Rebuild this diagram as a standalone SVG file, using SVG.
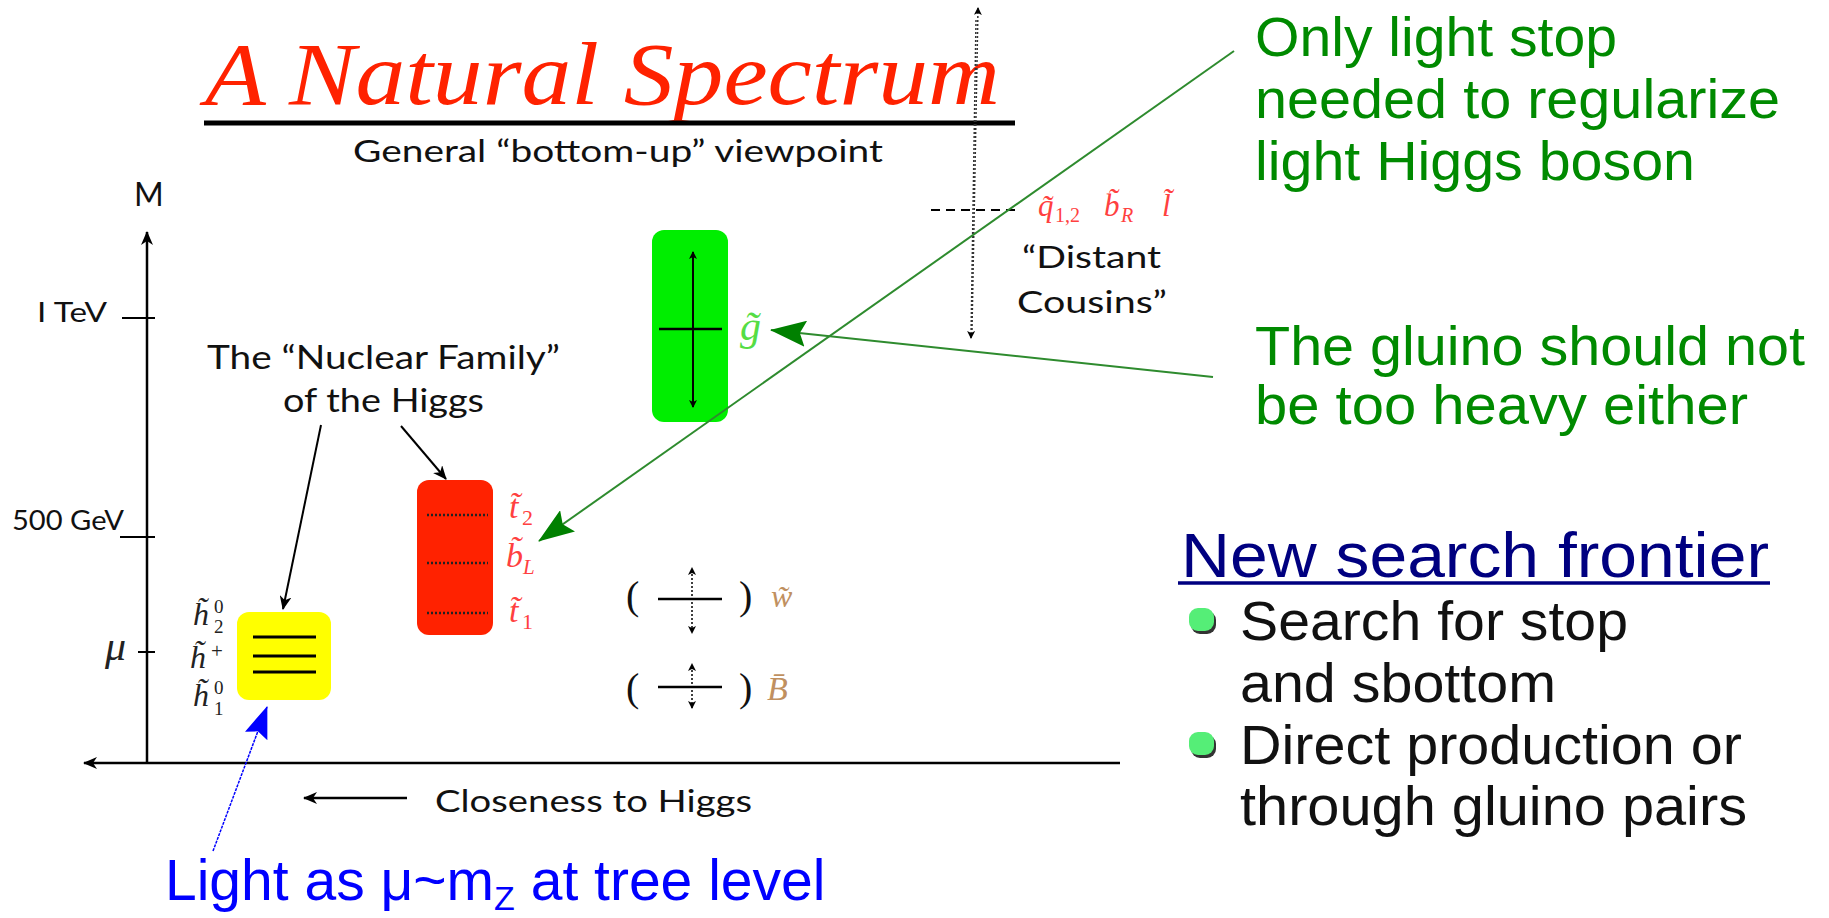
<svg xmlns="http://www.w3.org/2000/svg" width="1829" height="918" viewBox="0 0 1829 918">
<style>
.gill{font-family:Lato,"Open Sans","Liberation Sans",sans-serif;fill:#111}
.arial{font-family:"Liberation Sans",Arial,sans-serif}
.math{font-family:"Liberation Serif","DejaVu Serif",serif;font-style:italic}
.up{font-style:normal}
.grn{fill:#008a00}
.red{fill:#ff4040}
.tan{fill:#c09060}
.ln{stroke:#000;fill:none}
</style>
<defs>
<marker id="ak" markerWidth="14" markerHeight="12" refX="13" refY="6" orient="auto" markerUnits="userSpaceOnUse"><path d="M0,0 L14,6 L0,12 L4,6 Z" fill="#000"/></marker>
<marker id="as" markerWidth="8" markerHeight="8" refX="7" refY="4" orient="auto" markerUnits="userSpaceOnUse"><path d="M0,0 L8,4 L0,8 L2,4 Z" fill="#000"/></marker>
<marker id="ag" markerWidth="36" markerHeight="26" refX="35" refY="13" orient="auto" markerUnits="userSpaceOnUse"><path d="M0,0 L36,13 L0,26 L6,13 Z" fill="#008000"/></marker>
<marker id="ab" markerWidth="32" markerHeight="24" refX="31" refY="12" orient="auto" markerUnits="userSpaceOnUse"><path d="M0,0 L32,12 L0,24 L5,12 Z" fill="#0000ff"/></marker>
</defs>

<g id="title">
<text x="205" y="104" font-family="Liberation Serif" font-style="italic" font-size="88" fill="#ff2200" textLength="795" lengthAdjust="spacingAndGlyphs">A Natural Spectrum</text>
<line x1="204" y1="123" x2="1015" y2="123" stroke="#000" stroke-width="5"/>
<text class="gill" x="353" y="162" font-size="31" textLength="530" lengthAdjust="spacingAndGlyphs">General “bottom-up” viewpoint</text>
</g>

<g id="axes">
<line class="ln" x1="147" y1="763" x2="147" y2="232" stroke-width="2.5" marker-end="url(#ak)"/>
<line class="ln" x1="1120" y1="763" x2="84" y2="763" stroke-width="2.5" marker-end="url(#ak)"/>
<text class="gill" x="134" y="206" font-size="32">M</text>
<line class="ln" x1="122" y1="318" x2="155" y2="318" stroke-width="2"/>
<text class="gill" x="37" y="322" font-size="27" textLength="70" lengthAdjust="spacingAndGlyphs">I TeV</text>
<line class="ln" x1="120" y1="537" x2="155" y2="537" stroke-width="2"/>
<text class="gill" x="12" y="530" font-size="27" textLength="112" lengthAdjust="spacingAndGlyphs">500 GeV</text>
<line class="ln" x1="138" y1="652" x2="155" y2="652" stroke-width="2"/>
<text class="math" x="105" y="660" font-size="42" fill="#222">μ</text>
<line class="ln" x1="407" y1="798" x2="304" y2="798" stroke-width="2.5" marker-end="url(#ak)"/>
<text class="gill" x="435" y="812" font-size="31" textLength="317" lengthAdjust="spacingAndGlyphs">Closeness to Higgs</text>
</g>

<g id="nuclear-label">
<text class="gill" x="207" y="369" font-size="32" textLength="353" lengthAdjust="spacingAndGlyphs">The “Nuclear Family”</text>
<text class="gill" x="283" y="412" font-size="32" textLength="201" lengthAdjust="spacingAndGlyphs">of the Higgs</text>
</g>

<g id="higgsinos">
<rect x="237" y="612" width="94" height="88" rx="12" fill="#ffff00"/>
<line class="ln" x1="253" y1="637" x2="316" y2="637" stroke-width="3"/>
<line class="ln" x1="253" y1="656" x2="316" y2="656" stroke-width="3"/>
<line class="ln" x1="253" y1="672" x2="316" y2="672" stroke-width="3"/>
<text class="math" x="193" y="625" font-size="32" fill="#222">h̃<tspan class="up" x="214" y="613" font-size="19">0</tspan><tspan class="up" x="214" y="633" font-size="19">2</tspan></text>
<text class="math" x="190" y="668" font-size="32" fill="#222">h̃<tspan class="up" x="211" y="658" font-size="21">+</tspan></text>
<text class="math" x="193" y="706" font-size="32" fill="#222">h̃<tspan class="up" x="214" y="694" font-size="19">0</tspan><tspan class="up" x="214" y="715" font-size="19">1</tspan></text>
</g>

<g id="stops">
<rect x="417" y="480" width="76" height="155" rx="12" fill="#ff2200"/>
<line x1="427" y1="515" x2="488" y2="515" stroke="#222" stroke-width="2.5" stroke-dasharray="2,2"/>
<line x1="427" y1="563" x2="488" y2="563" stroke="#222" stroke-width="2.5" stroke-dasharray="2,2"/>
<line x1="427" y1="613" x2="488" y2="613" stroke="#222" stroke-width="2.5" stroke-dasharray="2,2"/>
<text class="math red" x="509" y="518" font-size="34">t̃<tspan class="up" x="522" y="525" font-size="22">2</tspan></text>
<text class="math red" x="506" y="567" font-size="34">b̃<tspan x="523" y="574" font-size="21">L</tspan></text>
<text class="math red" x="509" y="622" font-size="34">t̃<tspan class="up" x="522" y="629" font-size="22">1</tspan></text>
</g>

<g id="gluino">
<rect x="652" y="230" width="76" height="192" rx="12" fill="#00ee00"/>
<line x1="693" y1="400" x2="693" y2="252" stroke="#000" stroke-width="2" marker-end="url(#as)"/>
<line x1="693" y1="260" x2="693" y2="407" stroke="#000" stroke-width="2" marker-end="url(#as)"/>
<line class="ln" x1="659" y1="329" x2="722" y2="329" stroke-width="2.5"/>
<text class="math" x="740" y="340" font-size="42" fill="#55dd44">g̃</text>
</g>

<g id="wino">
<text x="626" y="609" font-family="Liberation Serif" font-size="40" fill="#111">(</text>
<line class="ln" x1="658" y1="599" x2="722" y2="599" stroke="#555" stroke-width="2.5"/>
<line x1="692" y1="600" x2="692" y2="568" stroke="#000" stroke-width="1.5" stroke-dasharray="2,2" marker-end="url(#as)"/>
<line x1="692" y1="598" x2="692" y2="633" stroke="#000" stroke-width="1.5" stroke-dasharray="2,2" marker-end="url(#as)"/>
<text x="739" y="609" font-family="Liberation Serif" font-size="40" fill="#111">)</text>
<text class="math tan" x="771" y="607" font-size="32">w̃</text>
</g>

<g id="bino">
<text x="626" y="701" font-family="Liberation Serif" font-size="40" fill="#111">(</text>
<line class="ln" x1="658" y1="687" x2="722" y2="687" stroke="#555" stroke-width="2.5"/>
<line x1="692" y1="688" x2="692" y2="664" stroke="#000" stroke-width="1.5" stroke-dasharray="2,2" marker-end="url(#as)"/>
<line x1="692" y1="686" x2="692" y2="708" stroke="#000" stroke-width="1.5" stroke-dasharray="2,2" marker-end="url(#as)"/>
<text x="739" y="701" font-family="Liberation Serif" font-size="40" fill="#111">)</text>
<text class="math tan" x="767" y="700" font-size="34">B̄</text>
</g>

<g id="distant-cousins">
<line x1="972" y1="330" x2="978" y2="8" stroke="#333" stroke-width="1.5" stroke-dasharray="2,2" marker-end="url(#as)"/>
<line x1="976" y1="20" x2="971" y2="338" stroke="#333" stroke-width="1.5" stroke-dasharray="2,2" marker-end="url(#as)"/>
<line x1="931" y1="210" x2="1018" y2="210" stroke="#000" stroke-width="2" stroke-dasharray="9,6"/>
<text class="math red" x="1038" y="216" font-size="31">q̃<tspan class="up" x="1055" y="222" font-size="20">1,2</tspan></text>
<text class="math red" x="1104" y="216" font-size="31">b̃<tspan x="1121" y="222" font-size="20">R</tspan></text>
<text class="math red" x="1162" y="216" font-size="31">l̃</text>
<text class="gill" x="1022" y="268" font-size="31" textLength="139" lengthAdjust="spacingAndGlyphs">“Distant</text>
<text class="gill" x="1017" y="313" font-size="31" textLength="150" lengthAdjust="spacingAndGlyphs">Cousins”</text>
</g>

<g id="connectors">
<line x1="321" y1="425" x2="283" y2="609" stroke="#000" stroke-width="2" marker-end="url(#ak)"/>
<line x1="401" y1="426" x2="446" y2="479" stroke="#000" stroke-width="2" marker-end="url(#ak)"/>
<line x1="1234" y1="51" x2="539" y2="541" stroke="#2e8b2e" stroke-width="2" marker-end="url(#ag)"/>
<line x1="1213" y1="377" x2="771" y2="330" stroke="#2e8b2e" stroke-width="2" marker-end="url(#ag)"/>
<line x1="213" y1="851" x2="267" y2="707" stroke="#0000ff" stroke-width="1.5" stroke-dasharray="3,1" marker-end="url(#ab)"/>
</g>

<g id="note-stop">
<text class="arial grn" font-size="55">
<tspan x="1255" y="56" textLength="362" lengthAdjust="spacingAndGlyphs">Only light stop</tspan>
<tspan x="1255" y="118" textLength="525" lengthAdjust="spacingAndGlyphs">needed to regularize</tspan>
<tspan x="1255" y="180" textLength="440" lengthAdjust="spacingAndGlyphs">light Higgs boson</tspan>
</text>
</g>

<g id="note-gluino">
<text class="arial grn" font-size="55">
<tspan x="1255" y="365" textLength="550" lengthAdjust="spacingAndGlyphs">The gluino should not</tspan>
<tspan x="1255" y="424" textLength="493" lengthAdjust="spacingAndGlyphs">be too heavy either</tspan>
</text>
</g>

<g id="note-higgsino">
<text class="arial" x="165" y="900" font-size="57" fill="#0000ff"><tspan>Light as μ~m</tspan><tspan font-size="34" dy="10">Z</tspan><tspan dy="-10"> at tree level</tspan></text>
</g>

<g id="frontier">
<text class="arial" x="1181" y="577" font-size="63" fill="#000080" textLength="588" lengthAdjust="spacingAndGlyphs">New search frontier</text>
<line x1="1178" y1="583" x2="1770" y2="583" stroke="#000080" stroke-width="3.5"/>
<rect x="1191" y="611" width="25" height="23" rx="9" fill="#333"/>
<rect x="1189" y="608" width="25" height="23" rx="9" fill="#55ee77"/>
<rect x="1191" y="735" width="25" height="23" rx="9" fill="#333"/>
<rect x="1189" y="732" width="25" height="23" rx="9" fill="#55ee77"/>
<text class="arial" font-size="55" fill="#111">
<tspan x="1240" y="640" textLength="388" lengthAdjust="spacingAndGlyphs">Search for stop</tspan>
<tspan x="1240" y="702" textLength="316" lengthAdjust="spacingAndGlyphs">and sbottom</tspan>
<tspan x="1240" y="764" textLength="502" lengthAdjust="spacingAndGlyphs">Direct production or</tspan>
<tspan x="1240" y="825" textLength="507" lengthAdjust="spacingAndGlyphs">through gluino pairs</tspan>
</text>
</g>
</svg>
